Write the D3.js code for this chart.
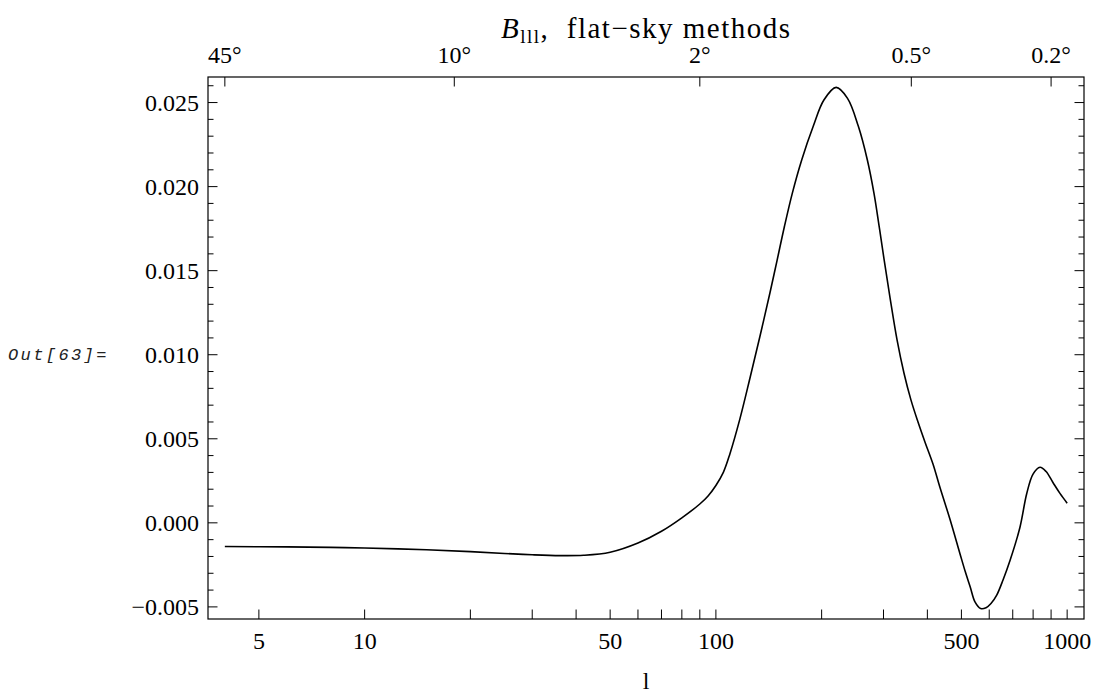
<!DOCTYPE html>
<html>
<head>
<meta charset="utf-8">
<script src="https://cdn.jsdelivr.net/npm/d3@7"></script>
<style>
  html, body { margin: 0; padding: 0; background: #fff; }
  svg { display: block; }
  .serif { font-family: "Liberation Serif", "Times New Roman", Times, serif; fill: #000; }
</style>
</head>
<body>
<svg id="chart" width="1093" height="693"></svg>
<script>
// Multipole l and flat-sky bispectrum B_lll
const ell = [4, 6, 8, 10, 15, 20, 25, 30, 36, 42, 50, 60, 70, 80, 90, 95, 100, 105, 109.6, 117.1,
  125, 133.5, 142.6, 149.3, 156.6, 165, 175.6, 189.4, 203, 220, 237, 254.3, 269.8, 281.9, 291.3,
  301, 313.1, 327.8, 343.2, 359.3, 376.2, 393.9, 415, 434.5, 464.1, 495.5, 512.7, 530, 546.5,
  567.5, 587.5, 607, 630.2, 656.8, 687.6, 734, 767, 799.6, 837, 871, 911, 954, 1000];
const bispec = [-0.00141, -0.00143, -0.00146, -0.00150, -0.00160, -0.00171, -0.00182, -0.00190,
  -0.00195, -0.00193, -0.00175, -0.00120, -0.00050, 0.00030, 0.00112, 0.00160, 0.00222, 0.00300,
  0.00410, 0.00620, 0.00860, 0.01110, 0.01370, 0.01560, 0.01760, 0.01960, 0.02160, 0.02360,
  0.02515, 0.02590, 0.02525, 0.02360, 0.02160, 0.01960, 0.01770, 0.01570, 0.01340, 0.01090,
  0.00890, 0.00730, 0.00600, 0.00480, 0.00350, 0.00210, 0.00020, -0.00185, -0.00290, -0.00383,
  -0.00470, -0.00510, -0.00505, -0.00480, -0.00430, -0.00340, -0.00224, -0.00026, 0.00173,
  0.00290, 0.00331, 0.00305, 0.00240, 0.00175, 0.00117];

// Axis ticks
const bottomLabelled = [5, 10, 50, 100, 500, 1000];
const bottomMinor = [20, 30, 40, 60, 70, 80, 90, 200, 300, 400, 600, 700, 800, 900];
const topDegrees = [45, 10, 2, 0.5, 0.2];         // angular scale, l = 180 / θ
const topLabels = ["45°", "10°", "2°", "0.5°", "0.2°"];
const yMajor = [-0.005, 0, 0.005, 0.010, 0.015, 0.020, 0.025];
const yLabels = ["\u22120.005", "0.000", "0.005", "0.010", "0.015", "0.020", "0.025"];

const frame = { left: 208, right: 1084, top: 77, bottom: 619 };
const svg = d3.select("#chart");

// Plot range padded by 2% on each side
const lx = d3.extent(ell).map(Math.log10);
const padX = 0.02 * (lx[1] - lx[0]);
const x = d3.scaleLog()
  .domain([10 ** (lx[0] - padX), 10 ** (lx[1] + padX)])
  .range([frame.left, frame.right]);
const vy = d3.extent(bispec);
const padY = 0.02 * (vy[1] - vy[0]);
const y = d3.scaleLinear()
  .domain([vy[0] - padY, vy[1] + padY])
  .range([frame.bottom, frame.top]);

const fontSize = 24;
const tickLen = 9.5, minorLen = 5.5;

// Curve
const line = d3.line()
  .x((d, i) => x(ell[i]))
  .y(d => y(d))
  .curve(d3.curveCatmullRom.alpha(0.5));
svg.append("path")
  .datum(bispec)
  .attr("d", line)
  .attr("fill", "none")
  .attr("stroke", "#000")
  .attr("stroke-width", 1.6)
  .attr("stroke-linejoin", "round");

// Frame
svg.append("rect")
  .attr("x", frame.left).attr("y", frame.top)
  .attr("width", frame.right - frame.left)
  .attr("height", frame.bottom - frame.top)
  .attr("fill", "none").attr("stroke", "#000").attr("stroke-width", 1.2);

const ticks = svg.append("g").attr("stroke", "#000").attr("stroke-width", 1);

// Left and right y ticks (major every 0.005, minor every 0.001)
const yMinor = d3.range(-5, 27).map(k => k / 1000)
  .filter(v => v >= y.domain()[0] && v <= y.domain()[1]);
yMinor.forEach(v => {
  const major = Math.abs(Math.round(v * 200) - v * 200) < 1e-6;
  const len = major ? tickLen : minorLen;
  const yy = y(v);
  ticks.append("line").attr("x1", frame.left).attr("x2", frame.left + len).attr("y1", yy).attr("y2", yy);
  ticks.append("line").attr("x1", frame.right).attr("x2", frame.right - len).attr("y1", yy).attr("y2", yy);
});

// Bottom ticks
bottomLabelled.concat(bottomMinor).forEach(l => {
  const xx = x(l);
  ticks.append("line").attr("x1", xx).attr("x2", xx).attr("y1", frame.bottom).attr("y2", frame.bottom - tickLen);
});

// Top ticks at l = 180/θ
topDegrees.forEach(t => {
  const xx = x(180 / t);
  ticks.append("line").attr("x1", xx).attr("x2", xx).attr("y1", frame.top).attr("y2", frame.top + tickLen);
});

// Y labels
svg.append("g").selectAll("text").data(yMajor).join("text")
  .attr("class", "serif")
  .attr("x", frame.left - 9)
  .attr("y", d => y(d) + 8)
  .attr("text-anchor", "end")
  .attr("font-size", fontSize)
  .text((d, i) => yLabels[i]);

// Bottom labels
svg.append("g").selectAll("text").data(bottomLabelled).join("text")
  .attr("class", "serif")
  .attr("x", d => x(d))
  .attr("y", 649)
  .attr("text-anchor", "middle")
  .attr("font-size", fontSize)
  .text(d => d);

// Top labels
svg.append("g").selectAll("text").data(topDegrees).join("text")
  .attr("class", "serif")
  .attr("x", d => x(180 / d))
  .attr("y", 63)
  .attr("text-anchor", "middle")
  .attr("font-size", fontSize)
  .text((d, i) => topLabels[i]);

// Axis label
svg.append("text")
  .attr("class", "serif")
  .attr("x", (frame.left + frame.right) / 2)
  .attr("y", 689)
  .attr("text-anchor", "middle")
  .attr("font-size", fontSize)
  .text("l");

// Title: italic B with upright subscript, then the method text
const title = svg.append("text")
  .attr("class", "serif")
  .attr("x", 501).attr("y", 38)
  .attr("font-size", 29)
  .attr("textLength", 289)
  .attr("lengthAdjust", "spacing")
  .style("white-space", "pre");
title.append("tspan").attr("font-style", "italic").text("B");
title.append("tspan").attr("font-size", 19).attr("dy", 5).text("lll");
title.append("tspan").attr("dy", -5).text(",  flat\u2212sky methods");

// Output cell label
svg.append("text")
  .attr("x", 8)
  .attr("y", 360)
  .attr("font-family", "'Liberation Mono', 'Courier New', monospace")
  .attr("font-style", "italic")
  .attr("font-size", 17)
  .attr("letter-spacing", 2.4)
  .attr("fill", "#222")
  .text("Out[63]=");
</script>
</body>
</html>
